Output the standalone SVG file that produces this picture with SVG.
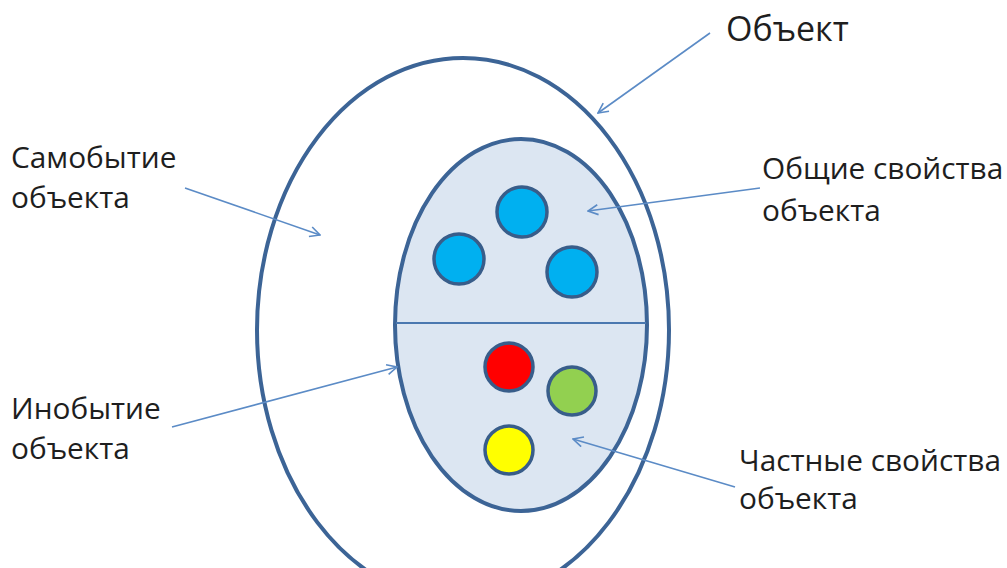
<svg xmlns="http://www.w3.org/2000/svg" width="1007" height="568" viewBox="0 0 1007 568">
<defs>
<style>
.lbl{font-family:"Open Sans","Liberation Sans",sans-serif;font-size:29.8px;fill:#1e1e1e}
.arr{stroke:#5b8bc6;stroke-width:1.6;fill:none;marker-end:url(#ah)}
.dot{stroke:#385d8a;stroke-width:3.5}
</style>
<marker id="ah" viewBox="0 0 12 12" refX="11" refY="6" markerWidth="12" markerHeight="12" markerUnits="userSpaceOnUse" orient="auto">
<path d="M1,1 L11,6 L1,11" fill="none" stroke="#5b8bc6" stroke-width="1.6"/>
</marker>
</defs>
<rect width="1007" height="568" fill="#ffffff"/>
<g id="object">
<ellipse cx="463" cy="330" rx="206" ry="272" fill="none" stroke="#3c6496" stroke-width="4"/>
</g>
<g id="properties">
<ellipse cx="521" cy="325" rx="126" ry="186" fill="#dce6f2" stroke="#3c6496" stroke-width="4"/>
<line x1="396" y1="323" x2="646" y2="323" stroke="#4a78b0" stroke-width="2"/>
</g>
<g id="general">
<circle class="dot" cx="522" cy="212" r="25" fill="#00b0f0"/>
<circle class="dot" cx="459" cy="259" r="25" fill="#00b0f0"/>
<circle class="dot" cx="572" cy="272" r="25" fill="#00b0f0"/>
</g>
<g id="particular">
<circle class="dot" cx="509" cy="367" r="24" fill="#ff0000"/>
<circle class="dot" cx="572" cy="391" r="24" fill="#92d050"/>
<circle class="dot" cx="509" cy="450" r="24" fill="#ffff00"/>
</g>
<g id="connectors">
<line class="arr" x1="710" y1="33" x2="598" y2="113"/>
<line class="arr" x1="185" y1="188" x2="320" y2="235"/>
<line class="arr" x1="172" y1="427" x2="397" y2="367"/>
<line class="arr" x1="760" y1="188" x2="588" y2="211"/>
<line class="arr" x1="735" y1="487" x2="573" y2="439"/>
</g>
<g id="labels">
<text class="lbl" x="726" y="41" style="font-size:34px">Объект</text>
<text class="lbl" x="11" y="168">Самобытие</text>
<text class="lbl" x="11" y="208">объекта</text>
<text class="lbl" x="762" y="179">Общие свойства</text>
<text class="lbl" x="762" y="221">объекта</text>
<text class="lbl" x="11" y="419">Инобытие</text>
<text class="lbl" x="11" y="459">объекта</text>
<text class="lbl" x="739" y="471">Частные свойства</text>
<text class="lbl" x="739" y="509">объекта</text>
</g>
</svg>
